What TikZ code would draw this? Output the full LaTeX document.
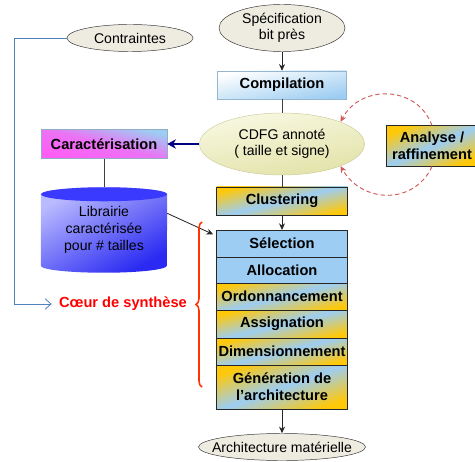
\documentclass[tikz,border=0pt]{standalone}
\usepackage{fontspec}
\setmainfont{Liberation Sans}
\setsansfont{Liberation Sans}
\usepackage{tikz}
\usetikzlibrary{shapes.geometric, arrows.meta, positioning, calc, decorations.pathreplacing, backgrounds}
\definecolor{PaleSky}{HTML}{9DCDF2}
\definecolor{GoldOrange}{HTML}{FFC808}
\definecolor{PinkMag}{HTML}{FF5CF5}
\definecolor{EllTan}{HTML}{EEECE1}
\definecolor{CdfgLight}{HTML}{F8F8E2}
\definecolor{CdfgDark}{HTML}{E2E2A8}
\definecolor{LibLight}{HTML}{BABAFF}
\definecolor{LibDark}{HTML}{2A2AF2}
\definecolor{LibTop}{HTML}{3A3AFF}
\definecolor{NavyArrow}{HTML}{000080}
\definecolor{LinkBlue}{HTML}{4F81BD}
\definecolor{LoopRed}{HTML}{D05A5A}
\definecolor{BraceRed}{HTML}{FF3300}
\tikzset{
  ellnode/.style={ellipse, draw=black!80, fill=EllTan, inner sep=1pt, align=center, font=\fontsize{12}{14}\selectfont},
  skybox/.style={rectangle, draw=black!85, fill=PaleSky, minimum width=39.3mm, inner xsep=0pt, outer sep=0pt, align=center, font=\bfseries\fontsize{12.5}{14.5}\selectfont},
  goldbox/.style={rectangle, draw=black!85, top color=GoldOrange, bottom color=GoldOrange, middle color=PaleSky, shading angle=14, minimum width=39.3mm, inner xsep=0pt, outer sep=0pt, align=center, font=\bfseries\fontsize{12.5}{14.5}\selectfont},
  compilbox/.style={rectangle, draw=PaleSky!70!gray, top color=white, bottom color=PaleSky, shading angle=12, minimum width=38.7mm, minimum height=8.4mm, font=\bfseries\fontsize{12.5}{14.5}\selectfont},
  caracbox/.style={rectangle, draw=PaleSky!60!gray, top color=PaleSky, bottom color=PinkMag, middle color=PinkMag!80!PaleSky, shading angle=-14, minimum width=37.8mm, minimum height=8.7mm, font=\bfseries\fontsize{12.5}{14.5}\selectfont},
  arrow/.style={-{Stealth[length=2mm,width=1.8mm]}, black!85, line width=0.7pt},
  link/.style={black!75, line width=0.7pt},
  navyarrow/.style={-{Stealth[length=2.6mm,width=2.8mm]}, NavyArrow, line width=1.7pt},
  bluelink/.style={-{Straight Barb[length=1.8mm,width=3.2mm]}, LinkBlue, line width=0.7pt},
  loopy/.style={-{Stealth[length=2mm,width=1.8mm]}, LoopRed, line width=0.8pt, dash pattern=on 1.3mm off 0.9mm},
  redbrace/.style={BraceRed, line width=1.3pt, decorate, decoration={brace, amplitude=1.8mm}}
}
\begin{document}
\begin{tikzpicture}[x=0.3mm, y=0.3mm]
  \useasboundingbox (0,0) rectangle (475,461);

  % main column
  \node[ellnode, minimum width=37.8mm, minimum height=14.1mm] (spec) at (282,433) {Spécification\\bit près};
  \node[compilbox] (compil) at (282,376) {Compilation};
  \node[ellnode, draw=CdfgDark!80!gray, top color=CdfgLight, bottom color=CdfgDark, shading angle=10, minimum width=49.5mm, minimum height=18.6mm] (cdfg) at (282,317) {CDFG annoté\\( taille et signe)};
  \node[goldbox, minimum height=8.4mm] (clust) at (282,260) {Clustering};

  % synthesis core
  \node[skybox, minimum height=8.1mm] (sel) at (282,217.5) {Sélection};
  \node[skybox, minimum height=7.8mm, below=0pt of sel] (alloc) {Allocation};
  \node[goldbox, minimum height=8.1mm, below=0pt of alloc] (ordo) {Ordonnancement};
  \node[goldbox, minimum height=8.4mm, below=0pt of ordo] (assig) {Assignation};
  \node[goldbox, minimum height=8.1mm, below=0pt of assig] (dimen) {Dimensionnement};
  \node[goldbox, minimum height=13.2mm, shading angle=20, below=0pt of dimen] (gen) {Génération de\\l’architecture};
  \node[ellnode, minimum width=50.1mm, minimum height=8.1mm, inner xsep=-3.5mm] (archi) at (282,14) {Architecture matérielle};

  % left side
  \node[ellnode, minimum width=37.8mm, minimum height=8.1mm] (contr) at (130,423) {Contraintes};
  \node[caracbox] (carac) at (104,317) {Caractérisation};
  \node[minimum width=37.8mm, minimum height=25.5mm, align=center, font=\fontsize{12}{14.5}\selectfont] (lib) at (104,231) {Librairie\\caractérisée\\pour \# tailles};
  \node[text=red, font=\bfseries\fontsize{12.5}{14.5}\selectfont] (coeur) at (123,157) {Cœur de synthèse};

  % right side
  \node[goldbox, minimum width=27.6mm, minimum height=12.3mm, shading angle=24] (analyse) at (432,315) {Analyse /\\raffinement};

  % library cylinder
  \begin{scope}[on background layer]
    \shade[top color=LibLight, bottom color=LibDark, shading angle=30]
      ($(lib.north west)+(0,-7)$) -- ($(lib.south west)+(0,7)$)
      arc[start angle=180, end angle=360, x radius=63, y radius=7]
      -- ($(lib.north east)+(0,-7)$)
      arc[start angle=0, end angle=180, x radius=63, y radius=7] -- cycle;
    \fill[LibTop] ($(lib.north)+(0,-7)$) ellipse[x radius=63, y radius=7];
  \end{scope}

  \draw[arrow] (spec) -- (compil);
  \draw[link] (compil) -- (cdfg);
  \draw[link] (cdfg) -- (clust);
  \draw[arrow] (clust) -- (sel);
  \draw[arrow] (gen) -- (archi);
  \draw[navyarrow] (cdfg.west) -- (carac.east);
  \draw[link] (carac) -- (lib.north);
  \draw[arrow] ([yshift=5mm]lib.east) -- ([shift={(-1mm,-1.3mm)}]sel.north west);
  \draw[bluelink, shorten >=1mm] (contr.west) -- ++(-52,0) |- (coeur.west);
  \draw[loopy] (analyse.north) to[out=110, in=62, looseness=1.2] (cdfg.north east);
  \draw[loopy] (analyse.south) to[out=245, in=300, looseness=1.2] (cdfg.south east);
  \draw[redbrace] (202,74) -- (202,239);
\end{tikzpicture}
\end{document}
